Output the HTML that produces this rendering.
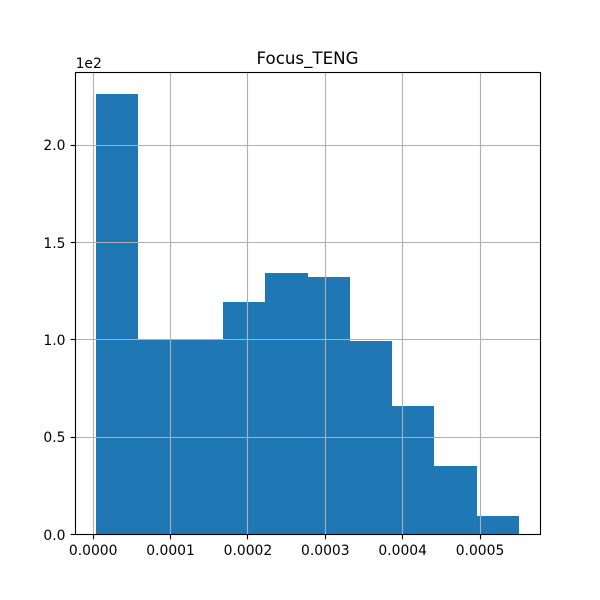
<!DOCTYPE html>
<html>
<head>
<meta charset="utf-8">
<style>
html,body{margin:0;padding:0;background:#fff;}
svg{display:block;}
text{font-family:"DejaVu Sans",sans-serif;fill:#000;}
</style>
</head>
<body>
<svg id="chart" width="600" height="600" viewBox="0 0 600 600" xmlns="http://www.w3.org/2000/svg">
<rect width="600" height="600" fill="#fff"/>
<text x="307.5" y="64" font-size="16.67" text-anchor="middle">Focus_TENG</text>
<text x="75.6" y="68" font-size="13.89">1e2</text>
</svg>
<script>
const binEdges = [0.0000038,0.00005844,0.00011308,0.00016772,0.00022236,0.0002772,0.00033164,0.00038628,0.00044092,0.00049556,0.0005502];
const binCounts = [226,100,100,119,134,132,99,66,35,9];
const xTicks = [0,0.0001,0.0002,0.0003,0.0004,0.0005];
const xTickLabels = ['0.0000','0.0001','0.0002','0.0003','0.0004','0.0005'];
const yTicks = [0,50,100,150,200];
const yTickLabels = ['0.0','0.5','1.0','1.5','2.0'];

const plotLeft = 75, plotRight = 540, plotTop = 72, plotBottom = 534;
const svg = document.getElementById('chart');
const NS = 'http://www.w3.org/2000/svg';

const xMin = binEdges[0], xMax = binEdges[binEdges.length - 1];
const xPad = (xMax - xMin) * 0.05;
const yMax = Math.max(...binCounts) * 1.05;
function xScale(v) {
  return plotLeft + (v - (xMin - xPad)) / (xMax - xMin + 2 * xPad) * (plotRight - plotLeft);
}
function yScale(v) {
  return plotBottom - v / yMax * (plotBottom - plotTop);
}
function make(tag, attrs) {
  const el = document.createElementNS(NS, tag);
  for (const k in attrs) el.setAttribute(k, attrs[k]);
  svg.appendChild(el);
  return el;
}

binCounts.forEach(function (count, i) {
  const x0 = Math.round(xScale(binEdges[i]));
  const x1 = Math.round(xScale(binEdges[i + 1]));
  const top = Math.round(yScale(count));
  const bar = make('rect', {x: x0, y: top, width: x1 - x0, height: plotBottom - top, fill: '#1f77b4', 'shape-rendering': 'crispEdges'});
  
  
});

xTicks.forEach(function (t, i) {
  const x = Math.floor(xScale(t)) + 0.5;
  const grid = make('line', {x1: x, x2: x, y1: plotTop, y2: plotBottom, stroke: '#b0b0b0', 'stroke-width': 1.11});
  
  
  const tick = make('line', {x1: x, x2: x, y1: plotBottom + 0.5, y2: plotBottom + 5.36, stroke: '#000', 'stroke-width': 1.11});
  
  
  const label = make('text', {x: xScale(t), y: 555, 'font-size': 13.89, 'text-anchor': 'middle'});
  label.textContent = xTickLabels[i];
  
  
});

yTicks.forEach(function (t, i) {
  const y = Math.round(yScale(t)) + 0.5;
  const grid = make('line', {x1: plotLeft, x2: plotRight, y1: y, y2: y, stroke: '#b0b0b0', 'stroke-width': 1.11});
  
  
  const tick = make('line', {x1: plotLeft - 4.36, x2: plotLeft + 0.5, y1: y, y2: y, stroke: '#000', 'stroke-width': 1.11});
  
  
  const label = make('text', {x: 65.5, y: Math.round(yScale(t) + 5.8), 'font-size': 13.89, 'text-anchor': 'end'});
  label.textContent = yTickLabels[i];
  
  
});

const frame = make('rect', {x: plotLeft + 0.5, y: plotTop + 0.5, width: plotRight - plotLeft, height: plotBottom - plotTop, fill: 'none', stroke: '#000', 'stroke-width': 1.11});


</script>
</body>
</html>
